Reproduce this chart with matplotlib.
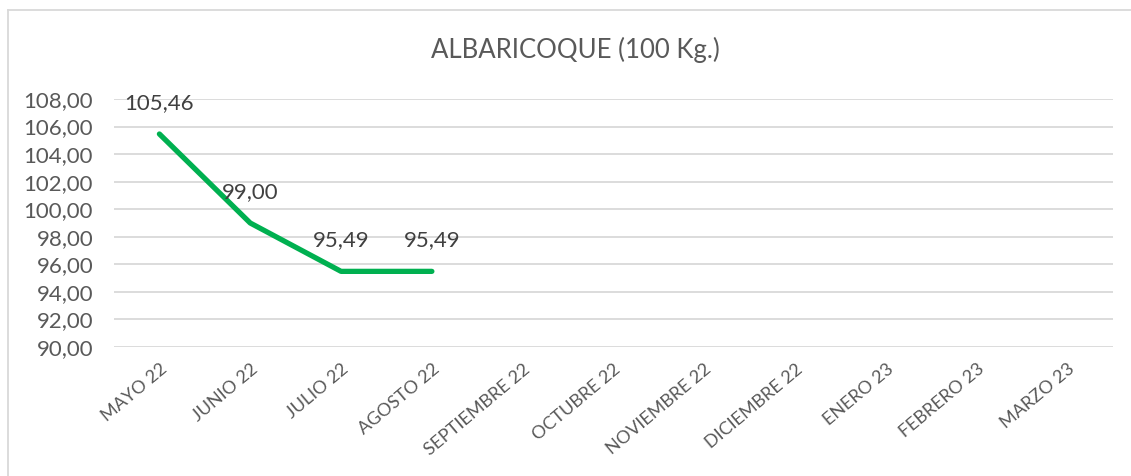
import matplotlib
matplotlib.use('Agg')
import matplotlib.pyplot as plt
from matplotlib.lines import Line2D

meses = ['MAYO 22', 'JUNIO 22', 'JULIO 22', 'AGOSTO 22', 'SEPTIEMBRE 22',
         'OCTUBRE 22', 'NOVIEMBRE 22', 'DICIEMBRE 22', 'ENERO 23',
         'FEBRERO 23', 'MARZO 23']
precios = [105.46, 99.00, 95.49, 95.49]
y_ticks = [90, 92, 94, 96, 98, 100, 102, 104, 106, 108]

plt.rcParams['font.family'] = ['Lato', 'DejaVu Sans']

fig = plt.figure(figsize=(11.31, 4.76), dpi=100)
ax = fig.add_axes([114/1131, 1 - 347/476, (1113 - 114)/1131, (347 - 99)/476])

x = list(range(len(precios)))
ax.plot(x, precios, color='#00B050', lw=3.8, solid_capstyle='round',
        solid_joinstyle='round', zorder=3)

for xi, v in zip(x, precios):
    txt = '{:.2f}'.format(v).replace('.', ',')
    ax.annotate(txt, (xi, v), xytext=(0, 31), textcoords='offset pixels',
                ha='center', va='center', fontsize=16, color='#404040')

ax.set_xlim(-0.5, len(meses) - 0.5)
ax.set_ylim(90, 108)
ax.set_yticks(y_ticks)
ax.set_yticklabels(['{:.2f}'.format(t).replace('.', ',') for t in y_ticks],
                   fontsize=16, color='#595959')
ax.set_xticks(range(len(meses)))
ax.set_xticklabels(meses, rotation=40, ha='right', va='top',
                   rotation_mode='anchor', fontsize=13, color='#595959')
ax.tick_params(axis='both', length=0)
ax.tick_params(axis='y', pad=15)
ax.tick_params(axis='x', pad=10)
ax.grid(axis='y', color='#D9D9D9', lw=1.3)
ax.set_axisbelow(True)
for s in ax.spines.values():
    s.set_visible(False)

fig.text(575/1131, 1 - 50/476, 'ALBARICOQUE (100 Kg.)', ha='center',
         va='center', fontsize=18.5, color='#595959')

# marco del grafico (solo arriba e izquierda visibles)
fig.add_artist(Line2D([8/1131, 1], [1 - 10/476, 1 - 10/476],
                      transform=fig.transFigure, color='#D9D9D9', lw=1.3))
fig.add_artist(Line2D([8/1131, 8/1131], [0, 1 - 10/476],
                      transform=fig.transFigure, color='#D9D9D9', lw=1.3))

fig.savefig('out.png', dpi=100)
